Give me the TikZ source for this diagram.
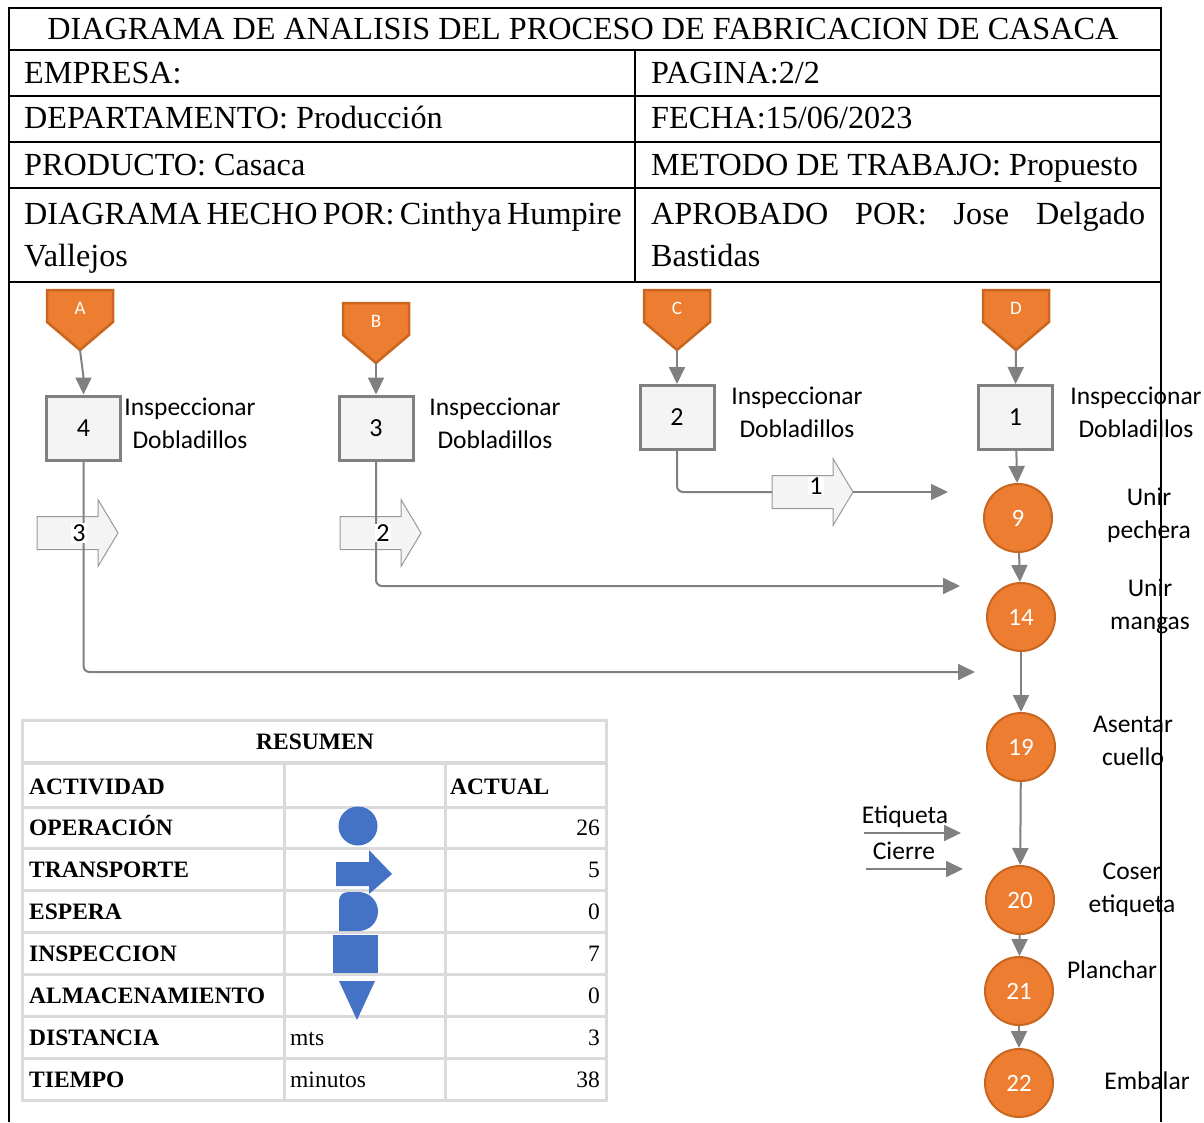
\documentclass[tikz,border=0pt]{standalone}
\usepackage{fontspec}
\setmainfont{Liberation Serif}
\newfontfamily\calibri{Carlito}
\usetikzlibrary{positioning}
\usetikzlibrary{arrows.meta}
\usetikzlibrary{calc}

\definecolor{naranja}{HTML}{ED7D31}
\definecolor{naranjaborde}{HTML}{C9651F}
\definecolor{gris}{HTML}{808080}
\definecolor{grisclaro}{HTML}{F4F4F4}
\definecolor{azul}{HTML}{4472C4}
\definecolor{gristabla}{HTML}{DADADA}

\tikzset{
  titulo/.style={anchor=base, font=\fontsize{32.2}{36}\selectfont, inner sep=0pt},
  celda/.style={anchor=base west, font=\fontsize{32.2}{36}\selectfont, inner sep=0pt},
  flecha/.style={draw=gris, line width=2pt, -{Triangle[length=17pt,width=16pt]}},
  linea/.style={draw=gris, line width=2pt},
  conector/.style={fill=naranja, draw=naranjaborde, line width=2.5pt, line join=miter},
  letra/.style={text=white, font=\calibri\fontsize{19}{20}\selectfont, inner sep=0pt},
  inspeccion/.style={draw=gris, fill=grisclaro, line width=3pt, minimum width=74pt,
    minimum height=64pt, font=\calibri\fontsize{26}{28}\selectfont},
  operacion/.style={circle, draw=naranjaborde, fill=naranja, line width=2pt,
    minimum size=68pt, text=white, font=\calibri\fontsize{25}{28}\selectfont},
  bloque/.style={fill=grisclaro, draw=gris!80, line width=1pt},
  numtr/.style={fill=white, inner sep=1pt, font=\calibri\fontsize{26}{28}\selectfont},
  etiqueta/.style={align=center, font=\calibri\fontsize{25.5}{33}\selectfont},
  resumen/.style={anchor=base west, font=\bfseries\fontsize{23.5}{26}\selectfont, inner sep=0pt},
  valor/.style={anchor=base east, font=\fontsize{23.5}{26}\selectfont, inner sep=0pt},
}

\begin{document}
\begin{tikzpicture}[x=1pt,y=-1pt]
\useasboundingbox (0,0) rectangle (1204,1122);

% Encabezado
\node[titulo] (tit) at (583,39) {DIAGRAMA DE ANALISIS DEL PROCESO DE FABRICACION DE CASACA};
\node[celda] (emp) at (24,83) {EMPRESA:};
\node[celda] (dep) at (24,128) {DEPARTAMENTO: Producción};
\node[celda] (prod) at (24,175) {PRODUCTO: Casaca};
\node[celda] (hecho) at (24,224) {\makebox[596pt][s]{DIAGRAMA HECHO POR: Cinthya Humpire}};
\node[celda] (hecho2) at (24,266) {Vallejos};
\node[celda] (pag) at (651,83) {PAGINA:2/2};
\node[celda] (fecha) at (651,128) {FECHA:15/06/2023};
\node[celda] (metodo) at (651,175) {METODO DE TRABAJO: Propuesto};
\node[celda] (aprob) at (651,224) {\makebox[494pt][s]{APROBADO\hfill POR:\hfill Jose\hfill Delgado}};
\node[celda] (aprob2) at (651,266) {Bastidas};

% Conectores de pagina
\foreach \l/\x/\y in {A/80/290, B/376/303, C/677/290, D/1016/290} {
  \filldraw[conector] ({\x-33},\y) -- ({\x+33},\y) -- ({\x+33},{\y+32}) -- (\x,{\y+60})
    -- ({\x-33},{\y+32}) -- cycle;
  \node[letra] (l\l) at (\x,{\y+18}) {\l};
  \coordinate (p\l) at (\x,{\y+60});
}

% Inspecciones
\node[inspeccion] (sq4) at (83.5,428) {4};
\node[inspeccion] (sq3) at (376,428) {3};
\node[inspeccion] (sq2) at (677,417.5) {2};
\node[inspeccion] (sq1) at (1015.5,417.5) {1};

\node[etiqueta] (txt4) at (190,423) {Inspeccionar\\Dobladillos};
\node[etiqueta] (txt3) at (495,423) {Inspeccionar\\Dobladillos};
\node[etiqueta] (txt2) at (797,412) {Inspeccionar\\Dobladillos};
\node[etiqueta] (txt1) at (1136,412) {Inspeccionar\\Dobladillos};

% Transportes
\foreach \x/\y in {37/533, 340/533, 772/492}
  \filldraw[bloque] (\x,{\y-16.5}) -- ({\x+61},{\y-16.5}) -- ({\x+61},{\y-33.5}) -- ({\x+81},\y)
    -- ({\x+61},{\y+33.5}) -- ({\x+61},{\y+16.5}) -- (\x,{\y+16.5}) -- cycle;

% Operaciones
\foreach \n/\x/\y in {9/1018/518, 14/1021/617, 19/1021/747, 20/1020/900, 21/1019/991, 22/1019/1083}
  \node[operacion] (op\n) at (\x,\y) {\n};

\coordinate (fin3) at (975,672);
\coordinate (fin2) at (960,586);
\coordinate (ent1) at (772,492);
\coordinate (sal1) at (853,492);
\coordinate (fin1) at (948,492);

\draw[flecha] (pA) .. controls (82,366) and (83.5,376) .. (sq4.north);
\draw[flecha] (pB) -- (sq3.north);
\draw[flecha] (pC) -- (sq2.north);
\draw[flecha] (pD) -- (sq1.north);
\draw[flecha, rounded corners=6pt] (sq4.south) |- (fin3);
\draw[flecha, rounded corners=6pt] (sq3.south) |- (fin2);
\draw[linea, rounded corners=6pt] (sq2.south) |- (ent1);
\draw[flecha] (sal1) -- (fin1);

\foreach \a/\b in {sq1/op9, op9/op14, op14/op19, op19/op20, op20/op21, op21/op22}
  \draw[flecha] (\a) -- (\b);

\node[numtr] (tr3) at (79,533) {3};
\node[numtr] (tr2) at (383,533) {2};
\node[numtr] (tr1) at (816,486) {1};

% Etiqueta y cierre
\coordinate (eti) at (864,833);
\coordinate (etif) at (961,833);
\coordinate (cie) at (866,869);
\coordinate (cief) at (963,869);
\draw[flecha] (eti) -- (etif);
\draw[flecha] (cie) -- (cief);
\node[etiqueta] (teti) at (905,817) {Etiqueta};
\node[etiqueta] (tcie) at (904,851) {Cierre};

\node[etiqueta] (t9) at (1149,515) {Unir\\pechera};
\node[etiqueta] (t14) at (1150,606) {Unir\\mangas};
\node[etiqueta] (t19) at (1133,741) {Asentar\\cuello};
\node[etiqueta] (t20) at (1132,890) {Coser\\etiqueta};
\node[etiqueta] (t21) at (1112,970) {Planchar};
\node[etiqueta] (t22) at (1147,1081) {Embalar};

% Tabla resumen
\draw[gristabla, line width=3pt] (22,720) rectangle (606,1100);
\draw[gristabla, line width=4pt] (22,763) -- (606,763);
\foreach \y in {807, 848, 890, 932, 974, 1016, 1058}
  \draw[gristabla, line width=3pt] (22,\y) -- (606,\y);
\foreach \x in {284, 445}
  \draw[gristabla, line width=3pt] (\x,763) -- (\x,1100);

\node[resumen, anchor=base] (res) at (315,749) {RESUMEN};
\node[resumen] (act) at (450,794) {ACTUAL};
\foreach \y/\nom/\val in {794/ACTIVIDAD/, 835/OPERACIÓN/26, 877/TRANSPORTE/5, 919/ESPERA/0,
    961/INSPECCION/7, 1003/ALMACENAMIENTO/0, 1045/DISTANCIA/3, 1087/TIEMPO/38} {
  \node[resumen] (f\y) at (29,\y) {\nom};
  \node[valor] (v\y) at (600,\y) {\val};
}
\node[valor, anchor=base west] (mts) at (290,1045) {mts};
\node[valor, anchor=base west] (min) at (290,1087) {minutos};

% Simbolos
\fill[azul] (358,826) circle (19.5pt);
\fill[azul] (336,862) -- (369,862) -- (369,850) -- (392,874) -- (369,894) -- (369,886)
  -- (336,886) -- cycle;
\fill[azul] (339,931) -- (339,901) .. controls (339,895) and (343,892) .. (349,892) -- (358.5,892)
  .. controls (369.3,892) and (378,900.7) .. (378,911.5)
  .. controls (378,922.3) and (369.3,931) .. (358.5,931) -- cycle;
\fill[azul] (333,935) rectangle (378,973);
\fill[azul] (339,981) -- (375,981) -- (357,1020) -- cycle;

% Marco
\draw[black, line width=2.5pt] (9,1122) -- (9,8) -- (1161,8) -- (1161,1122);
\foreach \y in {50, 96, 142, 188, 282}
  \draw[black, line width=2.5pt] (9,\y) -- (1161,\y);
\draw[black, line width=2.5pt] (635,50) -- (635,282);
\end{tikzpicture}
\end{document}
